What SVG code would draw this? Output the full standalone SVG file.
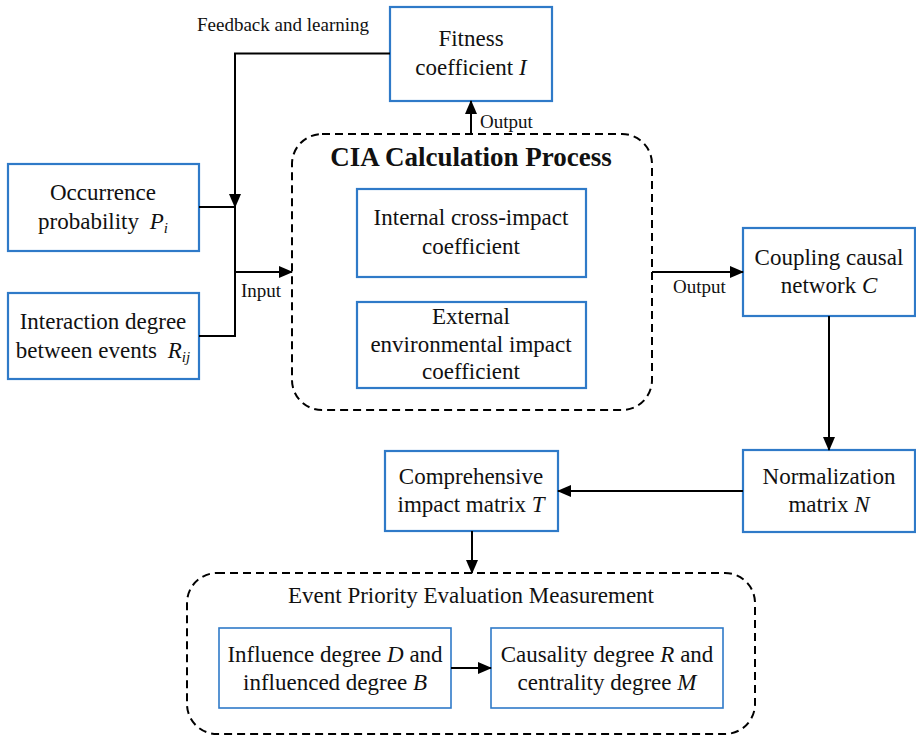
<svg xmlns="http://www.w3.org/2000/svg" width="916" height="740" viewBox="0 0 916 740">
<style>
.bx{fill:#fff;stroke:#2f7ac8;stroke-width:2.2}
.bx2{fill:#fff;stroke:#2f7ac8;stroke-width:1.6}
.dash{fill:none;stroke:#000;stroke-width:2;stroke-dasharray:8 5}
.t{font-family:"Liberation Serif","Times New Roman",serif;font-size:23px;fill:#111;text-anchor:middle}
.s{font-family:"Liberation Serif","Times New Roman",serif;font-size:19px;fill:#111}
.b{font-family:"Liberation Serif","Times New Roman",serif;font-size:27px;font-weight:bold;fill:#111;text-anchor:middle}
.i{font-style:italic}
.ln{fill:none;stroke:#000;stroke-width:2}
</style>
<defs>
<marker id="ah" markerUnits="userSpaceOnUse" markerWidth="14" markerHeight="12" refX="13" refY="6" orient="auto">
<path d="M0,0 L14,6 L0,12 Z" fill="#000"/>
</marker>
</defs>

<g id="cia-process">
<rect class="dash" x="292" y="134" width="360" height="276" rx="30"/>
<text class="b" x="471" y="166">CIA Calculation Process</text>
</g>
<g id="event-priority">
<rect class="dash" x="187" y="573" width="568" height="161" rx="30"/>
<text class="t" x="471" y="603">Event Priority Evaluation Measurement</text>
</g>

<g id="fitness">
<rect class="bx" x="390" y="7" width="162" height="94"/>
<text class="t" x="471" y="46">Fitness</text>
<text class="t" x="471" y="75">coefficient <tspan class="i">I</tspan></text>
</g>
<g id="occurrence">
<rect class="bx" x="8" y="164" width="191" height="87"/>
<text class="t" x="103" y="200">Occurrence</text>
<text class="t" x="103" y="229">probability <tspan class="i" dx="5">P</tspan><tspan class="i" font-size="15" dy="4">i</tspan></text>
</g>
<g id="interaction">
<rect class="bx" x="8" y="293" width="191" height="86"/>
<text class="t" x="103" y="329">Interaction degree</text>
<text class="t" x="103" y="358">between events <tspan class="i" dx="5">R</tspan><tspan class="i" font-size="15" dy="4">ij</tspan></text>
</g>
<g id="internal">
<rect class="bx" x="357" y="189" width="229" height="88"/>
<text class="t" x="471" y="225">Internal cross-impact</text>
<text class="t" x="471" y="254">coefficient</text>
</g>
<g id="external">
<rect class="bx" x="357" y="302" width="229" height="86"/>
<text class="t" x="471" y="324">External</text>
<text class="t" x="471" y="352">environmental impact</text>
<text class="t" x="471" y="379">coefficient</text>
</g>
<g id="coupling">
<rect class="bx" x="743" y="228" width="172" height="88"/>
<text class="t" x="829" y="265">Coupling causal</text>
<text class="t" x="829" y="293">network <tspan class="i">C</tspan></text>
</g>
<g id="normalization">
<rect class="bx" x="743" y="450" width="172" height="82"/>
<text class="t" x="829" y="484">Normalization</text>
<text class="t" x="829" y="512">matrix <tspan class="i">N</tspan></text>
</g>
<g id="comprehensive">
<rect class="bx" x="385" y="451" width="173" height="80"/>
<text class="t" x="471" y="484">Comprehensive</text>
<text class="t" x="471" y="512">impact matrix <tspan class="i">T</tspan></text>
</g>
<g id="influence">
<rect class="bx2" x="219" y="628" width="232" height="80"/>
<text class="t" x="335" y="662">Influence degree <tspan class="i">D</tspan> and</text>
<text class="t" x="335" y="690">influenced degree <tspan class="i">B</tspan></text>
</g>
<g id="causality">
<rect class="bx2" x="491" y="628" width="232" height="80"/>
<text class="t" x="607" y="662">Causality degree <tspan class="i">R</tspan> and</text>
<text class="t" x="607" y="690">centrality degree <tspan class="i">M</tspan></text>
</g>

<g id="connectors">
<path class="ln" d="M390,53.5 H235 V207" marker-end="url(#ah)"/>
<path class="ln" d="M199,207 H235 V336 H199"/>
<path class="ln" d="M235,272 H292" marker-end="url(#ah)"/>
<path class="ln" d="M471,134 V101" marker-end="url(#ah)"/>
<path class="ln" d="M652,272 H743" marker-end="url(#ah)"/>
<path class="ln" d="M829,316 V450" marker-end="url(#ah)"/>
<path class="ln" d="M743,491 H558" marker-end="url(#ah)"/>
<path class="ln" d="M472,531 V573" marker-end="url(#ah)"/>
<path class="ln" d="M451,668 H491" marker-end="url(#ah)"/>
<text class="s" x="283" y="31" text-anchor="middle">Feedback and learning</text>
<text class="s" x="480" y="128">Output</text>
<text class="s" x="241" y="297">Input</text>
<text class="s" x="673" y="293">Output</text>
</g>
</svg>
